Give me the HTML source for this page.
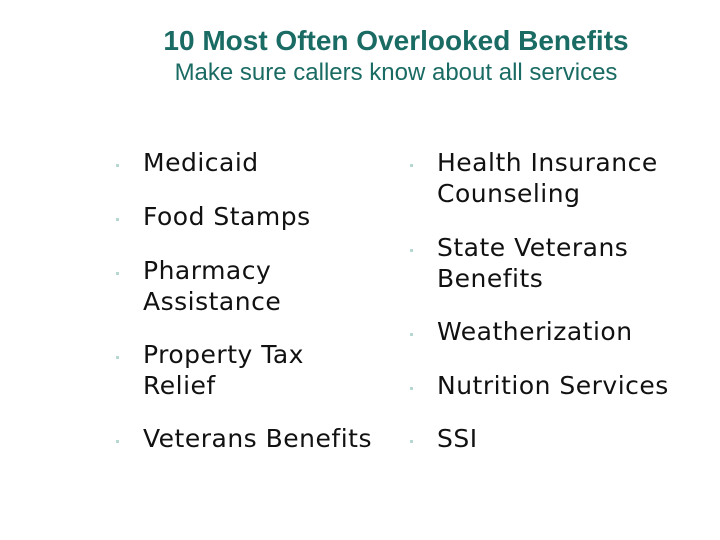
<!DOCTYPE html>
<html><head><meta charset="utf-8"><style>
body{margin:0;width:720px;height:540px;background:#fff;position:relative;overflow:hidden}
.t{position:absolute;left:0;width:792px;text-align:center;font-family:"Liberation Sans",sans-serif;color:#1a6b63;white-space:nowrap}
.it{position:absolute;font-family:"DejaVu Sans",sans-serif;font-size:25px;letter-spacing:0.5px;line-height:30.5px;color:#111;white-space:nowrap}
.b{position:absolute;width:3px;height:3px;background:#b5d8d0}
</style></head><body>
<div class="t" style="top:25px;font-size:28px;font-weight:bold">10 Most Often Overlooked Benefits</div>
<div class="t" style="top:59px;font-size:24px">Make sure callers know about all services</div>
<div id="c"></div>
<script>
const items=[
[143,163,"Medicaid"],[143,217,"Food Stamps"],[143,271,"Pharmacy<br>Assistance"],[143,355,"Property Tax<br>Relief"],[143,439,"Veterans Benefits"],
[437,163,"Health Insurance<br>Counseling"],[437,248,"State Veterans<br>Benefits"],[437,332,"Weatherization"],[437,386,"Nutrition Services"],[437,439,"SSI"]];
const c=document.getElementById('c');
items.forEach(([x,y,t])=>{
const d=document.createElement('div');d.className='it';d.style.left=x+'px';d.style.top=(y-15)+'px';d.innerHTML=t;


c.appendChild(d);
const b=document.createElement('div');b.className='b';b.style.left=(x-27)+'px';b.style.top=(y+1)+'px';


c.appendChild(b);
});
</script>
</body></html>
